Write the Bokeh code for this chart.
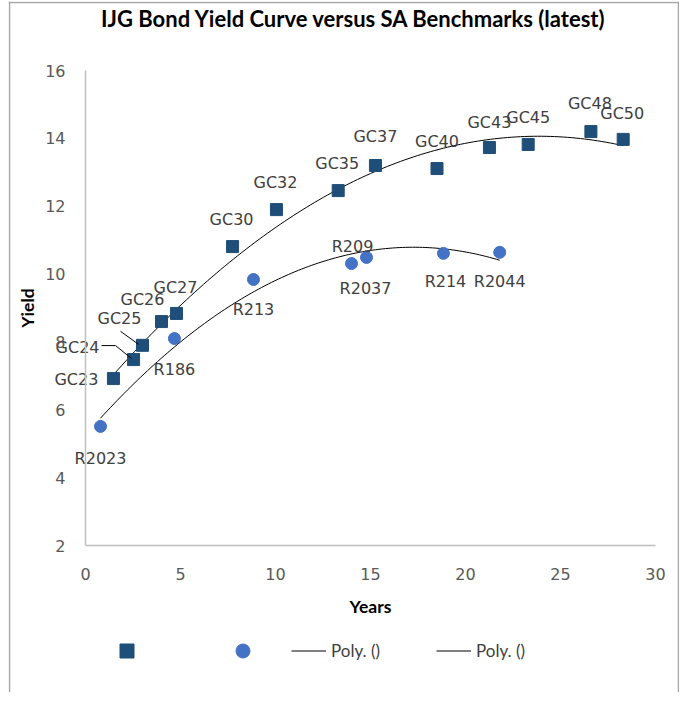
import numpy as np
from bokeh.plotting import figure
from bokeh.models import ColumnDataSource, Legend, LegendItem, Label, Range1d, FixedTicker, Span
from bokeh.core.properties import value
from bokeh.embed import file_html
from bokeh.resources import INLINE

# ---- data ----
gc_names = ["GC23", "GC24", "GC25", "GC26", "GC27", "GC30", "GC32", "GC35",
            "GC37", "GC40", "GC43", "GC45", "GC48", "GC50"]
gc_years = [1.47, 2.53, 3.00, 4.00, 4.79, 7.74, 10.05, 13.30,
            15.26, 18.50, 21.26, 23.30, 26.60, 28.30]
gc_yields = [6.92, 7.48, 7.90, 8.60, 8.84, 10.81, 11.90, 12.46,
             13.20, 13.11, 13.73, 13.82, 14.20, 13.97]

r_names = ["R2023", "R186", "R213", "R2037", "R209", "R214", "R2044"]
r_years = [0.79, 4.68, 8.84, 14.00, 14.79, 18.84, 21.80]
r_yields = [5.51, 8.10, 9.84, 10.31, 10.49, 10.61, 10.64]

x_ticks = [0, 5, 10, 15, 20, 25, 30]
y_ticks = [2, 4, 6, 8, 10, 12, 14, 16]

TITLE = "IJG Bond  Yield Curve versus SA Benchmarks (latest)"

# label offsets in pixels (screen: +y = down)
gc_dx = [-37, -56, -23, -19, -1, -1, -1, -1, 0, 0, 0, 0, -1, -1]
gc_dy = [1, -12, -27, -22, -26, -27, -27, -27, -29, -27, -25, -27, -28, -26]
r_dx = [0, 0, 0, 14, -14, 2, 0]
r_dy = [32, 31, 30, 25, -11, 28, 29]

SQ_COLOR = "#1F4E79"
CI_COLOR = "#4472C4"
LBL_FONT = "DejaVu Sans"

# ---- geometry (page pixels) ----
ORIG = 2                      # page position of the figure's top-left corner
W, H = 679, 692
LEFT, RIGHT, TOP, BOTTOM = 8, 0, 1, 0
FL, FR = ORIG + LEFT, ORIG + W - RIGHT
FT, FB = ORIG + TOP, ORIG + H - BOTTOM
AX_L, AX_R, AX_T, AX_B = 87, 657, 72, 547   # where x=0, x=30, y=16, y=2 sit
PX_X = (AX_R - AX_L) / 30.0
PX_Y = (AX_B - AX_T) / 14.0
x_start = 0 - (AX_L - FL) / PX_X
x_end = 30 + (FR - AX_R) / PX_X
y_end = 16 + (AX_T - FT) / PX_Y
y_start = 2 - (FB - AX_B) / PX_Y

p = figure(width=W, height=H, output_backend="svg", toolbar_location=None,
           x_range=Range1d(x_start, x_end), y_range=Range1d(y_start, y_end),
           min_border_left=LEFT, min_border_right=RIGHT, min_border_top=TOP,
           min_border_bottom=BOTTOM)
p.outline_line_color = None
p.grid.visible = False
p.background_fill_color = "white"
p.border_fill_color = "white"

# chart-area border on the left, top and right (the bottom runs off the page)
BORDER = "#A6A6A6"
p.add_layout(Span(location=x_start + 1.0 / PX_X, dimension="height",
                  line_color=BORDER, line_width=1.5))
p.add_layout(Span(location=x_end - 1.0 / PX_X, dimension="height",
                  line_color=BORDER, line_width=1.5))
p.add_layout(Span(location=y_end - 1.0 / PX_Y, dimension="width",
                  line_color=BORDER, line_width=1.5))

p.add_layout(Label(x=358 - FL, y=FB - 20, x_units="screen", y_units="screen",
                   text=TITLE, text_font="Lato", text_font_size="22px",
                   text_font_style="bold", text_color="#000000",
                   text_align="center", text_baseline="middle"))

for ax in (p.xaxis[0], p.yaxis[0]):
    ax.axis_line_color = "#BFBFBF"
    ax.axis_line_width = 1.5
    ax.major_tick_line_color = None
    ax.minor_tick_line_color = None
    ax.major_tick_out = 0
    ax.major_tick_in = 0
    ax.minor_tick_out = 0
    ax.minor_tick_in = 0
    ax.major_label_text_font = LBL_FONT
    ax.major_label_text_font_size = "16px"
    ax.major_label_text_color = "#595959"
    ax.axis_label_text_font = "Lato"
    ax.axis_label_text_font_style = "bold"
    ax.axis_label_text_font_size = "17.5px"
    ax.axis_label_text_color = "#000000"

p.xaxis.fixed_location = 2
p.yaxis.fixed_location = 0
p.xaxis.bounds = (0, 30)
p.yaxis.bounds = (2, 16)
p.xaxis.ticker = FixedTicker(ticks=x_ticks)
p.yaxis.ticker = FixedTicker(ticks=y_ticks)
p.xaxis.axis_label = "Years"
p.yaxis.axis_label = "Yield"
p.xaxis.major_label_standoff = 22
p.yaxis.major_label_standoff = 20
p.xaxis.axis_label_standoff = 13
p.yaxis.axis_label_standoff = 4

# trend lines: 2nd order polynomial fits of the data
def poly_line(xs, ys):
    c = np.polyfit(xs, ys, 2)
    xx = np.linspace(min(xs), max(xs), 120)
    return xx, np.polyval(c, xx)

gx, gy = poly_line(gc_years, gc_yields)
rx, ry = poly_line(r_years, r_yields)
l1 = p.line(gx, gy, line_color="#000000", line_width=1)
l2 = p.line(rx, ry, line_color="#000000", line_width=1)

gc_src = ColumnDataSource(dict(x=gc_years, y=gc_yields, name=gc_names, dx=gc_dx, dy=gc_dy))
r_src = ColumnDataSource(dict(x=r_years, y=r_yields, name=r_names, dx=r_dx, dy=r_dy))

s1 = p.scatter("x", "y", source=gc_src, marker="square", size=12,
               fill_color=SQ_COLOR, line_color=SQ_COLOR)
s2 = p.scatter("x", "y", source=r_src, marker="circle", size=12,
               fill_color=CI_COLOR, line_color=CI_COLOR)

# leader lines for GC24 / GC25 (pixel offsets converted to data units)
def leader(i, pts):
    x0, y0 = gc_years[i], gc_yields[i]
    return [x0 + a / PX_X for a, b in pts], [y0 - b / PX_Y for a, b in pts]
lx, ly = leader(1, [(-32, -14), (-18, -14), (-2, -1)])
p.line(lx, ly, line_color="#000000", line_width=1)
lx, ly = leader(2, [(-22, -14), (-4, -1)])
p.line(lx, ly, line_color="#000000", line_width=1)

for src in (gc_src, r_src):
    p.text("x", "y", text="name", source=src, x_offset="dx", y_offset="dy",
           text_font=value(LBL_FONT), text_font_size="16px", text_color="#404040",
           text_align="center", text_baseline="middle")

# legend: four single-item legends placed under the axes
LEG_BOTTOM = 670      # page y of the legend row's bottom edge
def add_legend(item, page_x):
    lg = Legend(items=[item], location=(page_x - FL, FB - LEG_BOTTOM),
                orientation="horizontal",
                glyph_width=35, glyph_height=35, label_standoff=5, label_width=0,
                padding=0, margin=0, border_line_color=None,
                background_fill_alpha=0, label_text_font="Lato",
                label_text_font_size="17px", label_text_color="#404040")
    p.add_layout(lg)

add_legend(LegendItem(label="", renderers=[s1]), 111)
add_legend(LegendItem(label="", renderers=[s2]), 227)
add_legend(LegendItem(label="Poly. ()", renderers=[l1]), 293)
add_legend(LegendItem(label="Poly. ()", renderers=[l2]), 438)

open("out.html", "w").write(file_html(p, INLINE))
